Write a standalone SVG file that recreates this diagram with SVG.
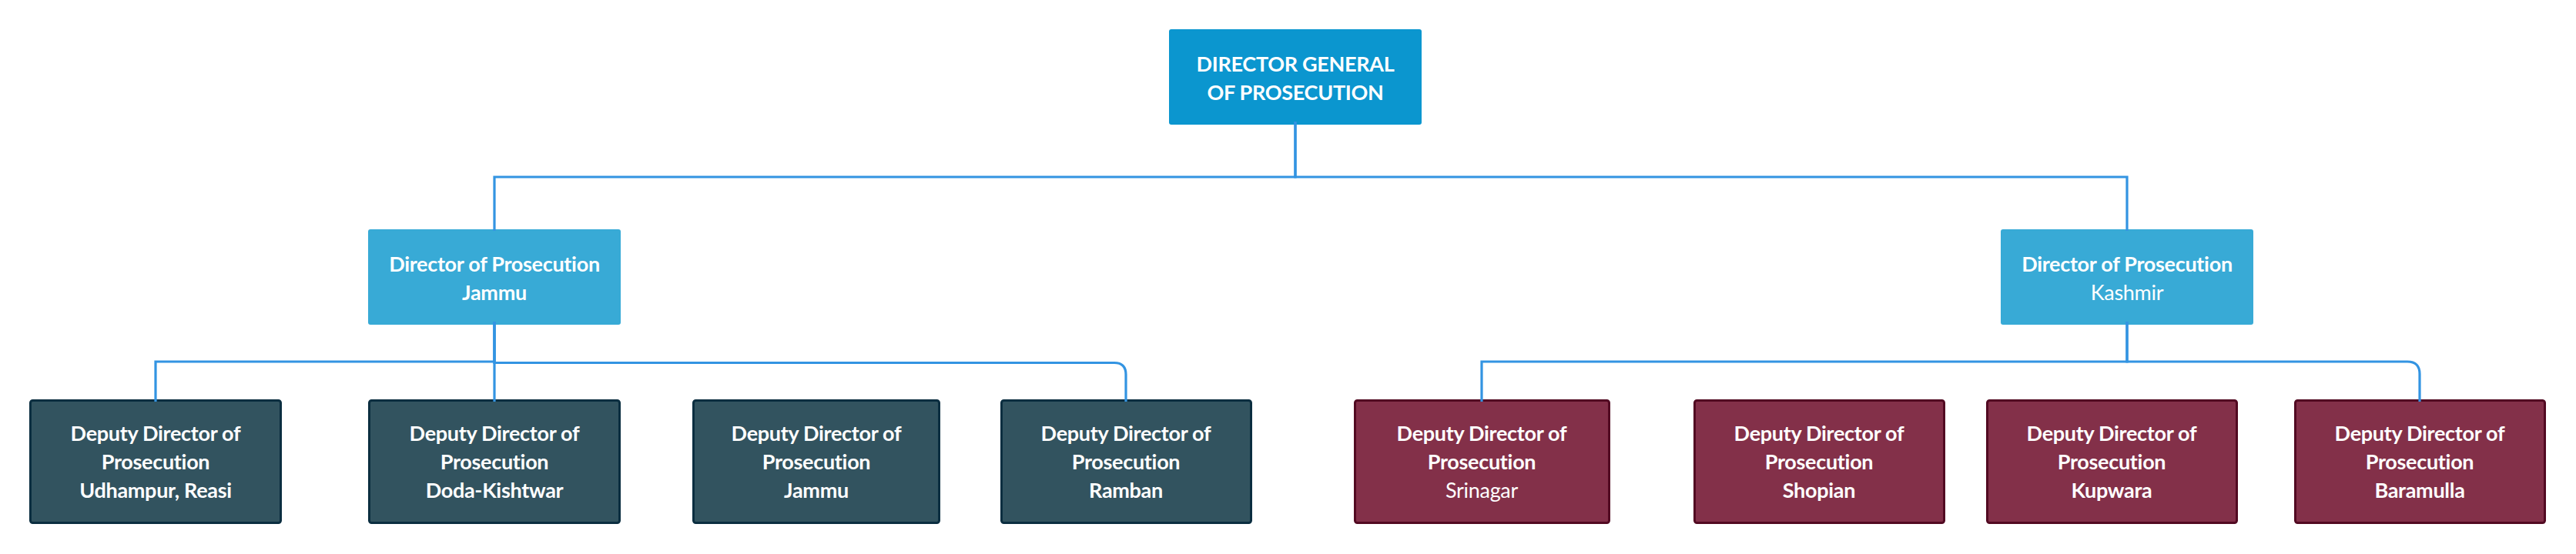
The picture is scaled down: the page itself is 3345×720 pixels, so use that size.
<svg xmlns="http://www.w3.org/2000/svg" width="3345" height="720" viewBox="0 0 3345 720">
<style>
.bg{fill:#ffffff}
.dg{fill:#0B96CF}
.dir{fill:#38AAD6}
.dj{fill:#32535F;stroke:#0B2E40;stroke-width:3}
.dk{fill:#833049;stroke:#520A22;stroke-width:3}
text{font-family:Lato,"Open Sans","Liberation Sans",sans-serif;font-size:27px;letter-spacing:-0.3px;fill:#ffffff;text-anchor:middle;font-variant-ligatures:none;font-feature-settings:"liga" 0,"clig" 0}
.b{font-weight:700}
.r{font-weight:400}
.c{fill:none;stroke:#3394E2;stroke-width:3.2}
</style>
<rect class="bg" x="0" y="0" width="3345" height="720"/>
<g id="dg">
<rect class="dg" x="1518" y="38" width="328" height="124" rx="3"/>
<text class="b" x="1682" y="93">DIRECTOR GENERAL</text>
<text class="b" x="1682" y="130">OF PROSECUTION</text>
</g>
<g id="dir-jammu">
<rect class="dir" x="478" y="298" width="328" height="124" rx="3"/>
<text class="b" x="642" y="353">Director of Prosecution</text>
<text class="b" x="642" y="390">Jammu</text>
</g>
<g id="dir-kashmir">
<rect class="dir" x="2598" y="298" width="328" height="124" rx="3"/>
<text class="b" x="2762" y="353">Director of Prosecution</text>
<text class="r" x="2762" y="390">Kashmir</text>
</g>
<g id="dd-udhampur">
<rect class="dj" x="39.5" y="520.5" width="325" height="159" rx="3"/>
<text class="b" x="202" y="573">Deputy Director of</text>
<text class="b" x="202" y="610">Prosecution</text>
<text class="b" x="202" y="647">Udhampur, Reasi</text>
</g>
<g id="dd-doda">
<rect class="dj" x="479.5" y="520.5" width="325" height="159" rx="3"/>
<text class="b" x="642" y="573">Deputy Director of</text>
<text class="b" x="642" y="610">Prosecution</text>
<text class="b" x="642" y="647">Doda-Kishtwar</text>
</g>
<g id="dd-jammu">
<rect class="dj" x="900.5" y="520.5" width="319" height="159" rx="3"/>
<text class="b" x="1060" y="573">Deputy Director of</text>
<text class="b" x="1060" y="610">Prosecution</text>
<text class="b" x="1060" y="647">Jammu</text>
</g>
<g id="dd-ramban">
<rect class="dj" x="1300.5" y="520.5" width="324" height="159" rx="3"/>
<text class="b" x="1462" y="573">Deputy Director of</text>
<text class="b" x="1462" y="610">Prosecution</text>
<text class="b" x="1462" y="647">Ramban</text>
</g>
<g id="dd-srinagar">
<rect class="dk" x="1759.5" y="520.5" width="330" height="159" rx="3"/>
<text class="b" x="1924" y="573">Deputy Director of</text>
<text class="b" x="1924" y="610">Prosecution</text>
<text class="r" x="1924" y="647">Srinagar</text>
</g>
<g id="dd-shopian">
<rect class="dk" x="2200.5" y="520.5" width="324" height="159" rx="3"/>
<text class="b" x="2362" y="573">Deputy Director of</text>
<text class="b" x="2362" y="610">Prosecution</text>
<text class="b" x="2362" y="647">Shopian</text>
</g>
<g id="dd-kupwara">
<rect class="dk" x="2580.5" y="520.5" width="324" height="159" rx="3"/>
<text class="b" x="2742" y="573">Deputy Director of</text>
<text class="b" x="2742" y="610">Prosecution</text>
<text class="b" x="2742" y="647">Kupwara</text>
</g>
<g id="dd-baramulla">
<rect class="dk" x="2980.5" y="520.5" width="324" height="159" rx="3"/>
<text class="b" x="3142" y="573">Deputy Director of</text>
<text class="b" x="3142" y="610">Prosecution</text>
<text class="b" x="3142" y="647">Baramulla</text>
</g>
<g id="connectors">
<path class="c" d="M1682 158 V230 H642 V300"/>
<path class="c" d="M1682 158 V230 H2762 V300"/>
<path class="c" d="M642 418 V470 H202 V522"/>
<path class="c" d="M642 418 V522"/>
<path class="c" d="M642 418 V471.5 H1447 Q1462 471.5 1462 487 V522"/>
<path class="c" d="M2762 418 V470 H1924 V522"/>
<path class="c" d="M2762 418 V470 H3126 Q3142 470 3142 486 V522"/>
</g>
</svg>
